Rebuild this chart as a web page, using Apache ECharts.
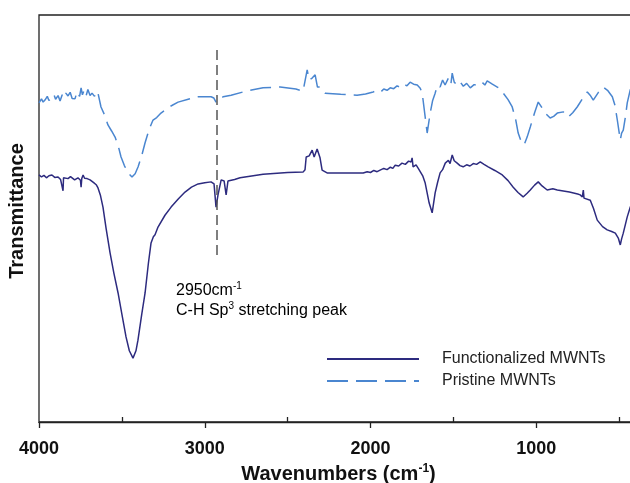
<!DOCTYPE html>
<html>
<head>
<meta charset="utf-8">
<script src="https://cdn.jsdelivr.net/npm/echarts@6/dist/echarts.min.js"></script>
<style>
html,body{margin:0;padding:0;background:#fff;}
#chart{width:630px;height:483px;}
</style>
</head>
<body>
<div id="chart"></div>
<script>
// Wavenumber (cm-1) and transmittance (arbitrary units)
const funcWave = [4000,3985,3970,3955,3940,3922,3905,3885,3870,3858,3855,3852,3843,3825,3810,3801,3785,3765,3750,3746,3742,3734,3725,3710,3692,3670,3655,3644,3630,3614,3595,3571,3548,3523,3500,3475,3455,3433,3415,3403,3380,3360,3340,3324,3310,3300,3282,3240,3203,3160,3119,3080,3040,3000,2962,2944,2932,2920,2901,2883,2871,2860,2820,2787,2648,2500,2407,2395,2388,2370,2352,2340,2322,2305,2292,2262,2150,2044,2020,2000,1980,1960,1942,1920,1900,1880,1865,1851,1830,1810,1790,1770,1755,1749,1743,1725,1710,1700,1685,1670,1646,1628,1610,1595,1580,1565,1549,1530,1520,1507,1495,1477,1460,1441,1420,1400,1380,1360,1338,1315,1290,1250,1205,1170,1139,1110,1079,1055,1036,1010,988,965,934,900,873,800,750,735,722,716,712,700,674,655,632,600,572,545,523,505,493,485,475,451,433,400];
const funcT = [60.7,60.2,60.6,60.0,60.5,60.7,60.1,60.2,59.6,60.0,56.8,60.0,60.4,59.8,60.3,59.9,59.5,60.0,59.4,57.7,59.8,60.7,59.9,59.8,59.5,58.8,58.3,57.5,55.8,52.8,47.5,41.5,36.5,31.7,26.5,20.9,17.5,15.7,17.5,20.1,26.5,31.7,39.0,44.0,45.5,46.0,47.9,50.8,52.8,54.8,56.5,57.7,58.5,58.8,59.0,58.5,52.8,55.8,59.5,59.2,55.8,59.2,59.6,60.0,60.9,61.3,61.4,62.0,65.1,65.4,66.8,65.1,67.1,65.0,61.9,61.2,61.2,61.2,61.5,61.3,61.8,61.5,61.9,62.3,62.0,62.6,62.3,63.1,62.9,63.6,63.3,64.1,63.9,64.9,62.7,63.2,62.2,62.4,60.5,58.7,53.8,51.4,56.3,58.9,61.2,62.0,63.6,64.3,63.5,65.6,64.2,63.6,63.0,62.7,63.2,62.9,63.5,63.3,63.9,63.3,62.7,61.8,60.7,59.3,57.7,56.4,55.3,56.2,57.0,58.2,59.0,58.0,57.0,57.3,57.0,56.5,56.0,55.8,55.3,57.0,55.0,55.0,54.5,52.5,49.6,48.0,47.2,46.8,46.4,45.2,43.5,45.0,46.4,50.4,52.8,55.0];

const pristWave = [4000,3985,3975,3964,3950,3940,3922,3910,3900,3885,3873,3860,3850,3838,3825,3812,3800,3783,3770,3755,3746,3738,3728,3716,3705,3692,3680,3665,3655,3644,3626,3605,3584,3562,3541,3520,3505,3485,3463,3439,3420,3402,3380,3360,3335,3312,3290,3264,3210,3161,3100,3040,2962,2945,2932,2915,2889,2841,2750,2648,2545,2450,2407,2395,2382,2370,2352,2334,2320,2304,2274,2180,2081,2030,1984,1960,1940,1920,1900,1881,1860,1840,1820,1800,1780,1761,1740,1718,1700,1688,1670,1658,1640,1625,1610,1595,1580,1565,1550,1530,1515,1507,1495,1477,1460,1440,1420,1398,1375,1350,1325,1310,1296,1265,1235,1215,1199,1170,1145,1125,1109,1090,1073,1055,1036,1010,988,965,946,916,895,873,837,807,780,753,720,692,675,656,625,596,570,541,525,511,493,485,475,462,451,433,400];
const pristT = [78.4,79.4,78.6,79.1,80.0,79.0,79.6,80.5,79.3,80.2,78.9,80.4,79.6,80.8,80.1,81.0,79.5,79.4,81.2,80.0,82.1,80.4,81.5,80.1,81.7,80.2,80.8,80.0,81.3,80.8,77.4,75.5,73.0,71.5,70.0,67.5,65.1,63.0,61.2,60.2,61.0,62.7,65.5,68.6,72.0,74.2,74.8,75.9,77.5,78.6,79.3,79.9,79.9,79.6,78.6,79.4,79.9,80.3,81.3,82.1,82.3,81.8,81.3,81.6,86.5,84.0,84.5,85.3,82.3,82.3,80.8,80.5,80.3,80.6,81.1,81.4,81.0,81.8,81.5,82.1,81.9,82.6,82.2,83.0,82.6,83.5,83.0,82.8,82.0,80.8,74.9,71.0,75.9,79.0,80.8,82.8,82.3,84.0,82.8,84.5,83.0,85.7,83.5,82.8,83.6,82.5,83.2,82.1,82.9,82.6,83.4,82.8,83.8,83.0,82.3,81.8,80.8,79.2,77.4,74.5,71.0,68.8,68.1,70.0,72.5,76.0,78.6,77.2,75.9,74.7,75.1,75.9,76.2,74.9,76.0,77.4,79.5,81.1,80.3,79.1,81.0,82.3,81.5,79.9,77.8,74.2,69.3,71.0,71.7,75.0,78.4,81.6,84.0];

// Marker for the C-H peak
const peakWave = 2925;
const peakMarkT = [91.4, 40.3];

const seriesNames = ['Functionalized MWNTs', 'Pristine MWNTs'];

const zip = (xs, ys) => xs.map((x, i) => [x, ys[i]]);
const FONT = 'Arial, "Liberation Sans", sans-serif';

const chart = echarts.init(document.getElementById('chart'), null, {renderer: 'canvas'});
chart.setOption({
  animation: false,
  backgroundColor: '#fff',
  grid: {left: 39, top: 15, bottom: 61, right: -72, outerBoundsMode: 'none', containLabel: false,
         show: true, borderColor: '#222', borderWidth: 1.3, backgroundColor: 'transparent'},
  xAxis: {
    type: 'value', inverse: true, min: 0, max: 4000, interval: 1000,
    axisLine: {show: true, lineStyle: {color: '#222', width: 1.3}},
    axisTick: {show: true, length: 6, lineStyle: {color: '#222', width: 1.3}},
    minorTick: {show: true, splitNumber: 2, length: -5, lineStyle: {color: '#222', width: 1.3}},
    splitLine: {show: false},
    axisLabel: {fontFamily: FONT, fontWeight: 'bold', fontSize: 18, color: '#111', margin: 18,
                formatter: v => String(v)},
    name: '{a|Wavenumbers (cm}{s|-1}{a|)}',
    nameLocation: 'middle', nameGap: 37,
    nameTextStyle: {
      padding: [0, 64, 0, 0],
      rich: {
        a: {fontFamily: FONT, fontWeight: 'bold', fontSize: 20, color: '#111', lineHeight: 24},
        s: {fontFamily: FONT, fontWeight: 'bold', fontSize: 12, color: '#111', verticalAlign: 'top', lineHeight: 24, padding: [0, 0, 10, 0]}
      }
    }
  },
  yAxis: {
    type: 'value', min: 0, max: 100,
    axisLine: {show: true, lineStyle: {color: '#222', width: 1.3}},
    axisTick: {show: false}, axisLabel: {show: false}, splitLine: {show: false},
    name: 'Transmittance', nameLocation: 'middle', nameGap: 12,
    nameTextStyle: {fontFamily: FONT, fontWeight: 'bold', fontSize: 20, color: '#111', padding: [0, 0, 0, 15]}
  },
  legend: {
    orient: 'vertical', left: 321, top: 346,
    itemWidth: 92, itemHeight: 14, itemGap: 6,
    itemStyle: {opacity: 0},
    textStyle: {fontFamily: FONT, fontSize: 16, color: '#222', padding: [0, 0, 0, 18]},
    data: seriesNames
  },
  series: [
    {
      name: seriesNames[0], type: 'line', data: zip(funcWave, funcT),
      symbol: 'none', showSymbol: false, smooth: false,
      lineStyle: {color: '#2d2b7f', width: 1.5},
      itemStyle: {color: '#2d2b7f'},
      z: 3,
      markLine: {
        silent: true, symbol: 'none', label: {show: false},
        lineStyle: {color: '#555', type: [10, 5], width: 1.5},
        data: [[{coord: [peakWave, peakMarkT[0]]}, {coord: [peakWave, peakMarkT[1]]}]]
      }
    },
    {
      name: seriesNames[1], type: 'line', data: zip(pristWave, pristT),
      symbol: 'none', showSymbol: false, smooth: false,
      lineStyle: {color: '#4a86d0', width: 1.5, type: [21, 8]},
      itemStyle: {color: '#4a86d0'},
      z: 2
    }
  ],
  graphic: [{
    type: 'text', left: 176, top: 281,
    style: {
      text: '{n|2950cm}{s|-1}\n{n|C-H Sp}{s|3}{n| stretching peak}',
      rich: {
        n: {fontFamily: FONT, fontSize: 16, color: '#222', lineHeight: 20},
        s: {fontFamily: FONT, fontSize: 10, color: '#222', lineHeight: 20, verticalAlign: 'top', padding: [0, 0, 8, 0]}
      }
    }
  }]
});
</script>
</body>
</html>
